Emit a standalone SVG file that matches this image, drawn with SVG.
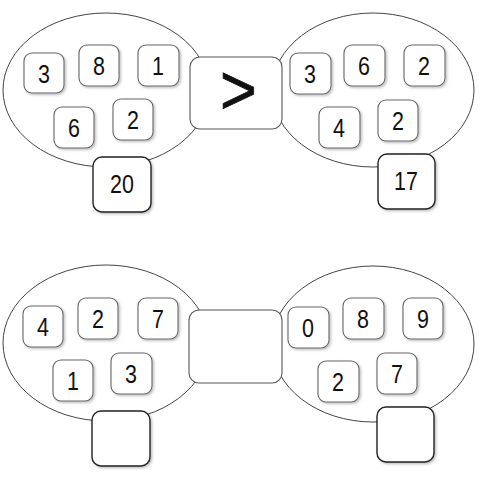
<svg xmlns="http://www.w3.org/2000/svg" width="500" height="500" viewBox="0 0 500 500">
<defs>
<filter id="sh" x="-20%" y="-20%" width="150%" height="150%">
<feDropShadow dx="1.5" dy="1.5" stdDeviation="1.2" flood-color="#000" flood-opacity="0.25"/>
</filter>
<style>
.el{fill:#fff;stroke:#444;stroke-width:1}
.n{fill:#fff;stroke:#666;stroke-width:1.1;filter:url(#sh)}
.a{fill:#fff;stroke:#222;stroke-width:1.4;filter:url(#sh)}
.c{fill:#fff;stroke:#555;stroke-width:1.1}
.t{font-family:"Liberation Sans",Arial,sans-serif;font-size:25px;fill:#111;text-anchor:middle;transform-box:fill-box;transform-origin:center;transform:scaleX(0.86)}
.g{font-family:"Liberation Sans",Arial,sans-serif;font-size:70px;fill:#111;stroke:#111;stroke-width:0.8;text-anchor:middle;transform-box:fill-box;transform-origin:center;transform:scaleX(0.9)}
</style>
</defs>
<rect width="500" height="500" fill="#fff"/>
<g id="set-top-left">
<ellipse class="el" cx="106" cy="90" rx="103" ry="77"/>
</g>
<g id="set-top-right">
<ellipse class="el" cx="373" cy="90" rx="101" ry="77"/>
</g>
<g id="set-bottom-left">
<ellipse class="el" cx="106" cy="343" rx="103" ry="78"/>
</g>
<g id="set-bottom-right">
<ellipse class="el" cx="373" cy="344" rx="101" ry="78"/>
</g>

<g id="cmp-top"><rect class="c" x="190" y="57" width="92" height="72" rx="10"/><text class="g" x="238.5" y="114">&gt;</text></g>
<g id="cmp-bottom"><rect class="c" x="189" y="310" width="93" height="73" rx="10"/></g>

<g id="tl-3"><rect class="n" x="24" y="53" width="40" height="40" rx="8"/><text class="t" x="44" y="83">3</text></g>
<g id="tl-8"><rect class="n" x="79" y="45" width="40" height="41" rx="8"/><text class="t" x="99" y="75">8</text></g>
<g id="tl-1"><rect class="n" x="138" y="45" width="41" height="41" rx="8"/><text class="t" x="158" y="75">1</text></g>
<g id="tl-6"><rect class="n" x="54" y="107" width="40" height="41" rx="8"/><text class="t" x="74" y="137">6</text></g>
<g id="tl-2"><rect class="n" x="113" y="99" width="40" height="41" rx="8"/><text class="t" x="133" y="129">2</text></g>
<g id="tl-sum"><rect class="a" x="93" y="157" width="58" height="55" rx="9"/><text class="t" x="122" y="193">20</text></g>

<g id="tr-3"><rect class="n" x="290" y="53" width="41" height="41" rx="8"/><text class="t" x="310" y="83">3</text></g>
<g id="tr-6"><rect class="n" x="344" y="45" width="41" height="41" rx="8"/><text class="t" x="364" y="75">6</text></g>
<g id="tr-2a"><rect class="n" x="404" y="45" width="41" height="41" rx="8"/><text class="t" x="424" y="75">2</text></g>
<g id="tr-4"><rect class="n" x="319" y="107" width="41" height="41" rx="8"/><text class="t" x="339" y="137">4</text></g>
<g id="tr-2b"><rect class="n" x="378" y="100" width="40" height="41" rx="8"/><text class="t" x="398" y="130">2</text></g>
<g id="tr-sum"><rect class="a" x="378" y="154" width="57" height="55" rx="9"/><text class="t" x="406" y="190">17</text></g>

<g id="bl-4"><rect class="n" x="23" y="306" width="40" height="41" rx="8"/><text class="t" x="43" y="336">4</text></g>
<g id="bl-2"><rect class="n" x="78" y="298" width="40" height="41" rx="8"/><text class="t" x="98" y="328">2</text></g>
<g id="bl-7"><rect class="n" x="138" y="298" width="40" height="41" rx="8"/><text class="t" x="158" y="328">7</text></g>
<g id="bl-1"><rect class="n" x="53" y="360" width="40" height="41" rx="8"/><text class="t" x="73" y="390">1</text></g>
<g id="bl-3"><rect class="n" x="111" y="353" width="41" height="41" rx="8"/><text class="t" x="131" y="383">3</text></g>
<g id="bl-sum"><rect class="a" x="92" y="411" width="58" height="55" rx="9"/></g>

<g id="br-0"><rect class="n" x="288" y="307" width="41" height="41" rx="8"/><text class="t" x="308" y="337">0</text></g>
<g id="br-8"><rect class="n" x="343" y="298" width="41" height="41" rx="8"/><text class="t" x="363" y="328">8</text></g>
<g id="br-9"><rect class="n" x="403" y="298" width="40" height="41" rx="8"/><text class="t" x="423" y="328">9</text></g>
<g id="br-2"><rect class="n" x="318" y="361" width="41" height="41" rx="8"/><text class="t" x="338" y="391">2</text></g>
<g id="br-7"><rect class="n" x="377" y="353" width="40" height="41" rx="8"/><text class="t" x="397" y="383">7</text></g>
<g id="br-sum"><rect class="a" x="377" y="407" width="57" height="55" rx="9"/></g>
<g id="connectors"/>
</svg>
